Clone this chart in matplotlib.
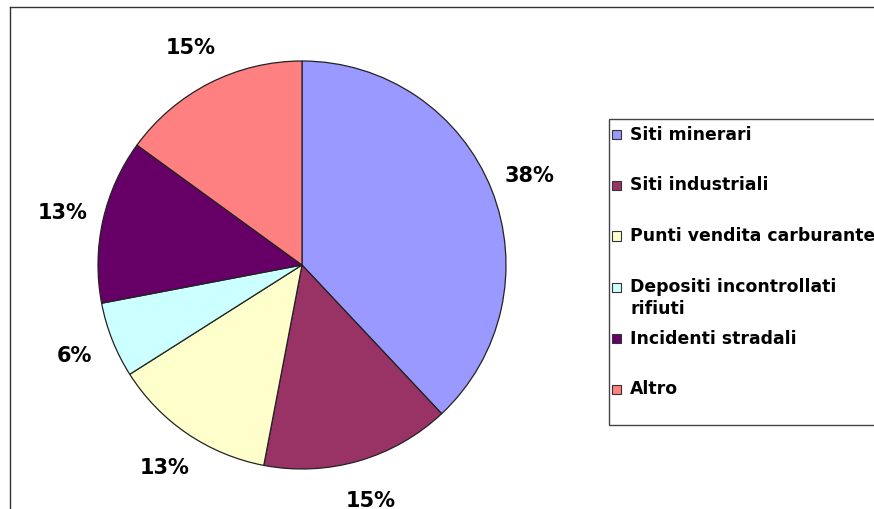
import matplotlib
matplotlib.use('Agg')
import matplotlib.pyplot as plt
from matplotlib.patches import Rectangle
from matplotlib.lines import Line2D

categories = ['Siti minerari', 'Siti industriali', 'Punti vendita carburante',
              'Depositi incontrollati\nrifiuti', 'Incidenti stradali', 'Altro']
values = [38, 15, 13, 6, 13, 15]
colors = ['#9999FF', '#993366', '#FFFFCC', '#CCFFFF', '#660066', '#FF8080']

W, H = 874, 510
fig = plt.figure(figsize=(W / 100, H / 100), dpi=100)
fig.patch.set_facecolor('white')


def fx(x):
    return x / W


def fy(y):
    return 1 - y / H


# outer chart frame (cropped on right and bottom)
fig.add_artist(Line2D([fx(9.5), fx(9.5)], [fy(7.5), 0], color='#333333', lw=1))
fig.add_artist(Line2D([fx(9.5), 1], [fy(7.5), fy(7.5)], color='#333333', lw=1))

# pie
cx, cy, r = 302, 266, 204
ax = fig.add_axes([fx(cx - r), fy(cy + r), 2 * r / W, 2 * r / H])
wedges, texts, autotexts = ax.pie(
    values, colors=colors, startangle=90, counterclock=False,
    autopct=lambda p: f'{p:.0f}%', pctdistance=1.2,
    wedgeprops=dict(edgecolor='#222222', linewidth=0.9),
    textprops=dict(fontsize=15, fontweight='bold', color='black',
                   family='DejaVu Sans'))
ax.set_xlim(-1, 1)
ax.set_ylim(-1, 1)
ax.axis('off')

# legend (manual, box cropped at right edge)
lx0, ly0, ly1 = 608.5, 119.5, 425.5
fig.add_artist(Rectangle((fx(lx0), fy(ly1)), 1.2 - fx(lx0), fy(ly0) - fy(ly1),
                         transform=fig.transFigure, facecolor='white',
                         edgecolor='#444444', lw=1, clip_on=False))
y_first, step = 135, 51
for i, (lab, col) in enumerate(zip(categories, colors)):
    y = y_first + step * i
    fig.add_artist(Rectangle((fx(611.5), fy(y + 4.5)), 9 / W, 9 / H,
                             transform=fig.transFigure, facecolor=col,
                             edgecolor='#333333', lw=0.8))
    fig.text(fx(630), fy(y - 9.5), lab, fontsize=12.4, fontweight='bold',
             family='DejaVu Sans', ha='left', va='top', linespacing=1.25)

fig.savefig('out.png', dpi=100)
